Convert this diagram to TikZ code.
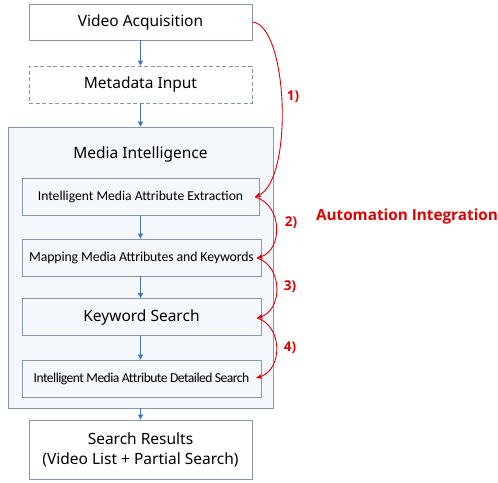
\documentclass[tikz,border=0pt]{standalone}
\usepackage{fontspec}
\setmainfont{Noto Sans}
\newfontfamily\calfont{Carlito}
\newfontfamily\redfont{Open Sans}
\usetikzlibrary{arrows.meta}
\definecolor{boxline}{HTML}{8496B0}
\definecolor{flowblue}{HTML}{4472C4}
\definecolor{autored}{HTML}{E00000}
\definecolor{panelfill}{HTML}{F4F7FC}
\begin{document}
\begin{tikzpicture}[x=1pt,y=-1pt,
  box/.style={draw=boxline, line width=0.8pt, fill=white, minimum width=223pt, minimum height=36pt, inner sep=0pt, font=\fontsize{15.5}{18}\selectfont},
  inbox/.style={draw=boxline, line width=0.8pt, fill=panelfill, minimum width=239pt, minimum height=37pt, inner sep=0pt},
  flow/.style={-{Triangle[length=5pt,width=5pt]}, draw=flowblue, line width=0.9pt},
  auto/.style={-{Stealth[length=6pt,width=5pt]}, draw=autored, line width=0.9pt},
  steplabel/.style={text=autored, font=\redfont\bfseries\fontsize{13.5}{15}\selectfont}]
\useasboundingbox (0,0) rectangle (498,482);
\node[draw=boxline, line width=0.8pt, fill=panelfill, minimum width=265pt, minimum height=281pt, inner sep=0pt] (panel) at (140.5,267.5) {};
\node[box] (va) at (140.5,22) {Video Acquisition};
\node[box, dashed, dash pattern=on 4pt off 2.5pt, minimum height=37pt] (mi) at (140.5,84.5) {Metadata Input};
\node[font=\fontsize{15.5}{18}\selectfont] (title) at (140.5,154) {Media Intelligence};
\node[inbox, minimum width=237pt, font=\calfont\fontsize{13.6}{15}\selectfont] (b1) at (140.5,197) {Intelligent Media Attribute Extraction};
\node[inbox, font=\calfont\fontsize{13.8}{15}\selectfont] (b2) at (141.5,257.5) {\addfontfeature{LetterSpace=-1}Mapping Media Attributes and Keywords};
\node[inbox, font=\fontsize{15.5}{18}\selectfont] (b3) at (141.5,317) {Keyword Search};
\node[inbox, font=\calfont\fontsize{13.6}{15}\selectfont] (b4) at (141.5,378.5) {\addfontfeature{LetterSpace=-4}Intelligent Media Attribute Detailed Search};
\node[box, minimum height=59pt, align=center, font=\fontsize{15.5}{20}\selectfont] (sr) at (140.5,449.5) {Search Results\\(Video List + Partial Search)};
\draw[flow] (va) -- (mi);
\draw[flow] (mi) -- (panel.north -| mi.south);
\draw[flow] (b1) -- (b2.north -| b1.south);
\draw[flow] (b2.south -| b1.south) -- (b3.north -| b1.south);
\draw[flow] (b3.south -| b1.south) -- (b4.north -| b1.south);
\draw[flow] (panel.south -| sr.north) -- (sr);
\coordinate (e1) at (255,197);
\coordinate (e2) at (257,258);
\coordinate (e3) at (257,318);
\coordinate (e4) at (256,378);
\draw[auto] (va.east) .. controls (288,25) and (294,180) .. (e1);
\draw[auto] (e1) .. controls (283,205) and (283,250) .. (e2);
\draw[auto] (e2) .. controls (283,266) and (283,310) .. (e3);
\draw[auto] (e3) .. controls (283,326) and (283,370) .. (e4);
\node[steplabel] (l1) at (293,97) {1)};
\node[steplabel] (l2) at (291,223) {2)};
\node[steplabel] (l3) at (290,287) {3)};
\node[steplabel] (l4) at (290,348) {4)};
\node[text=autored, font=\redfont\bfseries\fontsize{15.3}{17}\selectfont] (ai) at (407,217) {Automation Integration};
\end{tikzpicture}
\end{document}
